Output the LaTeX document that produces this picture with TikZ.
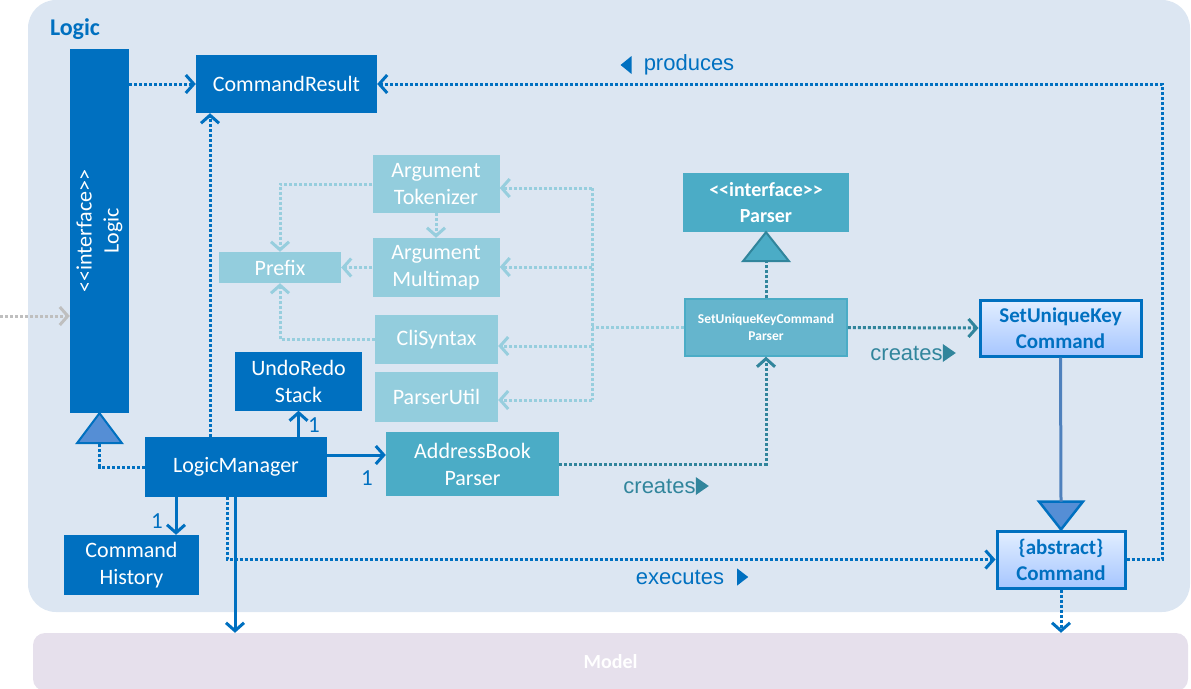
\documentclass[tikz,border=0pt]{standalone}
\usepackage{fontspec}
\setmainfont{Carlito}[Ligatures=TeXOff]
\newfontfamily\labelfont{Liberation Sans}
\usetikzlibrary{arrows.meta}
\definecolor{logicblue}{HTML}{0070C0}
\definecolor{panelblue}{HTML}{DCE6F2}
\definecolor{parserteal}{HTML}{4BACC6}
\definecolor{sukcpteal}{HTML}{65B5CD}
\definecolor{helperteal}{HTML}{93CDDD}
\definecolor{helperline}{HTML}{97CEDE}
\definecolor{darkteal}{HTML}{31859C}
\definecolor{trifill}{HTML}{558ED5}
\definecolor{inheritline}{HTML}{4F81BD}
\definecolor{gradtop}{HTML}{E2EEFF}
\definecolor{gradbottom}{HTML}{A6C6FF}
\definecolor{modelpurple}{HTML}{E6E0EC}
\definecolor{outsidegrey}{HTML}{BFBFBF}
\begin{document}
\begin{tikzpicture}
[x=1pt,y=-1pt,
  boxdecorate/.style={inner sep=0pt,align=center,text=white,font=\fontsize{22}{27}\selectfont},
  gradboxdecorate/.style={boxdecorate,top color=gradtop,bottom color=gradbottom,draw=logicblue,
    line width=3pt,text=logicblue,font=\bfseries\fontsize{21}{26}\selectfont},
  arrowdecorate/.style={-{Straight Barb[length=8pt,width=18pt]},line width=3pt},
  dotdecorate/.style={dash pattern=on 3pt off 2pt,line width=3pt},
  labeldecorate/.style={inner sep=0pt,font=\labelfont\fontsize{22}{24}\selectfont},
  multdecorate/.style={inner sep=0pt,text=logicblue,font=\fontsize{23}{24}\selectfont}]
\useasboundingbox (0,0) rectangle (1191,688);
%% packages
\fill[panelblue,rounded corners=28] (28,0) rectangle (1190,612);
\node (model) at (610.5,662) [boxdecorate,fill=modelpurple,rounded corners=12,minimum width=1155,
  minimum height=58,font=\bfseries\fontsize{20}{24}\selectfont] {Model};
\node at (75,29) [inner sep=0pt,text=logicblue,font=\bfseries\fontsize{24}{26}\selectfont] {Logic};
%% classes
\node (logic) at (99.5,231) [boxdecorate,fill=logicblue,minimum width=59,minimum height=364] {};
\node [boxdecorate,rotate=90] at (logic.center) {<<interface>>\\Logic};
\foreach \nodename/\x/\y/\w/\h/\text in {
  cmdresult/286.5/84/181/58/CommandResult, logicmgr/236/467/182/60/LogicManager,
  undoredo/298.5/381/127/59/UndoRedo\\Stack, cmdhistory/131.5/565/135/60/Command\\History} {
  \node (\nodename) at (\x,\y) [boxdecorate,fill=logicblue,minimum width=\w,minimum height=\h] {\text};
}
\foreach \nodename/\x/\y/\w/\h/\text in {
  tokenizer/436/184/127/58/Argument\\Tokenizer, multimap/436/267.5/127/59/Argument\\Multimap,
  clisyntax/436.5/339.5/123/49/CliSyntax, parserutil/436.5/396.5/123/50/ParserUtil,
  prefix/280/267.5/122/31/Prefix} {
  \node (\nodename) at (\x,\y) [boxdecorate,fill=helperteal,minimum width=\w,minimum height=\h] {\text};
}
\node (abparser) at (472.5,464) [boxdecorate,fill=parserteal,minimum width=173,minimum height=64]
  {AddressBook\\Parser};
\node (parser) at (766,202.5) [boxdecorate,fill=parserteal,minimum width=166,minimum height=59,
  font=\bfseries\fontsize{20}{26}\selectfont] {<<interface>>\\Parser};
\node (sukcp) at (766,327.5) [boxdecorate,fill=sukcpteal,draw=parserteal,line width=1.5pt,
  minimum width=162,minimum height=57,font=\bfseries\fontsize{13.5}{17}\selectfont]
  {SetUniqueKeyCommand\\Parser};
\node (sukc) at (1060.5,328) [gradboxdecorate,minimum width=161,minimum height=56] {SetUniqueKey\\Command};
\node (command) at (1061,559.5) [gradboxdecorate,minimum width=128,minimum height=57] {\{abstract\}\\Command};
%% triangles for realization and inheritance
\draw[fill=trifill,draw=logicblue,line width=2pt,line join=miter] (logic.south) -- ++(-22.5,30) -- ++(45,0) -- cycle;
\coordinate (logictri) at ([yshift=-30]logic.south);
\draw[fill=parserteal,draw=darkteal,line width=2pt,line join=miter] (parser.south) -- ++(-23,29) -- ++(46,0) -- cycle;
\coordinate (parsertri) at ([yshift=-29]parser.south);
\draw[fill=trifill,draw=logicblue,line width=2.5pt,line join=miter] (command.north) -- ++(-22,-28) -- ++(44,0) -- cycle;
\coordinate (sukctri) at ([yshift=28]command.north);
%% coordinates
\coordinate (outside) at (0,316);
\coordinate (prodcorner) at (1162,84);
\foreach \busname/\y in {bus1/188, bus2/267, bus3/346, bus4/400} {
  \coordinate (\busname) at (592,\y);
}
%% edges or lines
\draw[arrowdecorate,dotdecorate,outsidegrey] (outside) -- (logic.west |- outside);
\draw[arrowdecorate,dotdecorate,logicblue] (logic.east |- cmdresult.west) -- (cmdresult.west);
\draw[arrowdecorate,dotdecorate,logicblue] ([xshift=-26]logicmgr.north) -- ([xshift=-26]logicmgr.north |- cmdresult.south);
\draw[dotdecorate,logicblue] (logicmgr.west) -| (logictri);
\draw[arrowdecorate,logicblue] (undoredo.south |- logicmgr.north) -- (undoredo.south);
\draw[arrowdecorate,logicblue] ([xshift=-60]logicmgr.south) -- ([xshift=-60]logicmgr.south |- cmdhistory.north);
\draw[arrowdecorate,logicblue] ([yshift=12]logicmgr.east) -- ([yshift=12]logicmgr.east -| abparser.west);
\draw[arrowdecorate,logicblue] ([xshift=-1]logicmgr.south) -- ([xshift=-1]logicmgr.south |- model.north);
\draw[arrowdecorate,dotdecorate,logicblue] ([xshift=-9]logicmgr.south) |- (command.west);
\draw[arrowdecorate,dotdecorate,logicblue] (command.east) -| (prodcorner) -- (cmdresult.east);
\draw[arrowdecorate,dotdecorate,logicblue] (command.south) -- (command.south |- model.north);
\draw[line width=3pt,inheritline] (sukc.south) -- (sukctri);
\draw[arrowdecorate,dotdecorate,darkteal] (abparser.east) -| (sukcp.south);
\draw[arrowdecorate,dotdecorate,darkteal] (sukcp.east) -- (sukc.west);
\draw[dotdecorate,darkteal] (sukcp.north) -- (parsertri);
\draw[dotdecorate,helperline] (sukcp.west) -- (sukcp.west -| bus1) (bus1) -- (bus4);
\foreach \busname/\endnode in {bus1/tokenizer, bus2/multimap, bus3/clisyntax, bus4/parserutil} {
  \draw[arrowdecorate,dotdecorate,helperline] (\busname) -- (\busname -| \endnode.east);
}
\draw[arrowdecorate,dotdecorate,helperline] (tokenizer.west) -| (prefix.north);
\draw[arrowdecorate,dotdecorate,helperline] (tokenizer.south) -- (multimap.north);
\draw[arrowdecorate,dotdecorate,helperline] (multimap.west) -- (multimap.west -| prefix.east);
\draw[arrowdecorate,dotdecorate,helperline] (clisyntax.west) -| (prefix.south);
%% labels
\node (undomult) at (314,425) [multdecorate] {1};
\node (historymult) at (157,521) [multdecorate] {1};
\node (abmult) at (367,478) [multdecorate] {1};
\node (producestext) at (689,65) [labeldecorate,text=logicblue] {produces};
\fill[logicblue] ([xshift=-12]producestext.west) ++(0,-9) -- ++(0,18) -- ++(-11,-9) -- cycle;
\node (executestext) at (680,577) [labeldecorate,text=logicblue] {executes};
\fill[logicblue] ([xshift=13]executestext.east) ++(0,-8.5) -- ++(0,17) -- ++(11,-8.5) -- cycle;
\foreach \nodename/\x/\y in {createsab/659.5/486, createssukc/906.5/353} {
  \node (\nodename) at (\x,\y) [labeldecorate,text=darkteal] {creates};
  \fill[darkteal] (\nodename.east) ++(0,-9) -- ++(0,18) -- ++(13,-9) -- cycle;
}
\end{tikzpicture}
\end{document}
